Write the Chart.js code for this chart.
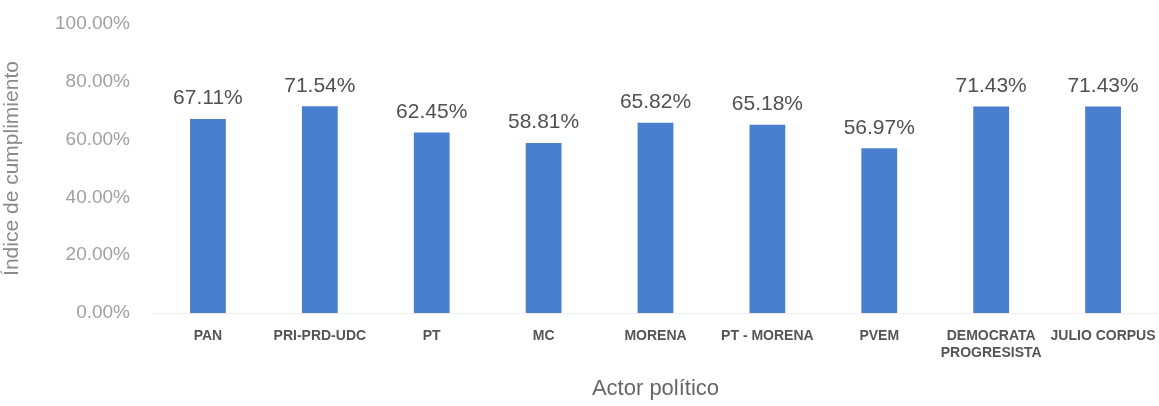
<!DOCTYPE html>
<html>
<head>
<meta charset="utf-8">
<script src="https://cdn.jsdelivr.net/npm/chart.js@4.4.0/dist/chart.umd.min.js"></script>
<style>
html,body{margin:0;padding:0;background:#fff;}
#wrap{width:1159px;height:406px;position:relative;}
</style>
</head>
<body>
<div id="wrap"><canvas id="c" width="1159" height="406"></canvas></div>
<script>
const categories = [["PAN"],["PRI-PRD-UDC"],["PT"],["MC"],["MORENA"],["PT - MORENA"],["PVEM"],["DEMOCRATA","PROGRESISTA"],["JULIO CORPUS"]];
const values = [67.11, 71.54, 62.45, 58.81, 65.82, 65.18, 56.97, 71.43, 71.43];
const yTicks = [0, 20, 40, 60, 80, 100];

const valueLabels = {
  id: 'valueLabels',
  afterDatasetsDraw(chart) {
    const ctx = chart.ctx;
    const meta = chart.getDatasetMeta(0);
    ctx.save();
    ctx.font = '21px "Liberation Sans", Arial, sans-serif';
    ctx.fillStyle = '#505050';
    ctx.textAlign = 'center';
    ctx.textBaseline = 'bottom';
    meta.data.forEach((bar, i) => {
      ctx.fillText(values[i].toFixed(2) + '%', bar.x, bar.y - 10);
    });
    ctx.restore();
  }
};

new Chart(document.getElementById('c'), {
  type: 'bar',
  data: {
    labels: categories,
    datasets: [{
      data: values,
      backgroundColor: '#4a7fcf',
      borderWidth: 0,
      barPercentage: 0.32,
      categoryPercentage: 1.0
    }]
  },
  options: {
    responsive: false,
    animation: false,
    devicePixelRatio: 1,
    layout: { padding: { top: 24, right: 0, left: 0, bottom: 0 } },
    plugins: { legend: { display: false }, tooltip: { enabled: false } },
    scales: {
      y: {
        min: 0, max: 100,
        afterBuildTicks(axis) { axis.ticks = yTicks.map(v => ({ value: v })); },
        afterFit(axis) { axis.width = 152; axis.paddingTop = 0; axis.paddingBottom = 0; },
        grid: { display: false, drawTicks: false },
        border: { display: false },
        ticks: {
          padding: 22,
          color: '#a0a0a0',
          font: { family: '"Liberation Sans", Arial, sans-serif', size: 19 },
          callback: v => v.toFixed(2) + '%'
        },
        title: {
          display: true,
          text: 'Índice de cumplimiento',
          color: '#8a8a8a',
          font: { family: '"Liberation Sans", Arial, sans-serif', size: 21 },
          padding: { top: 0, bottom: 4 }
        }
      },
      x: {
        afterFit(axis) { axis.height = 93; axis.paddingRight = 0; axis.paddingLeft = 0; },
        grid: { display: false, drawTicks: false },
        border: { display: true, color: '#eeeeee' },
        ticks: {
          padding: 15,
          color: '#555555',
          maxRotation: 0,
          autoSkip: false,
          font: { family: '"Liberation Sans", Arial, sans-serif', size: 14, weight: 'bold' }
        },
        title: {
          display: true,
          text: 'Actor político',
          color: '#666666',
          font: { family: '"Liberation Sans", Arial, sans-serif', size: 22 },
          padding: { top: 10 }
        }
      }
    }
  },
  plugins: [valueLabels]
});
</script>
</body>
</html>
